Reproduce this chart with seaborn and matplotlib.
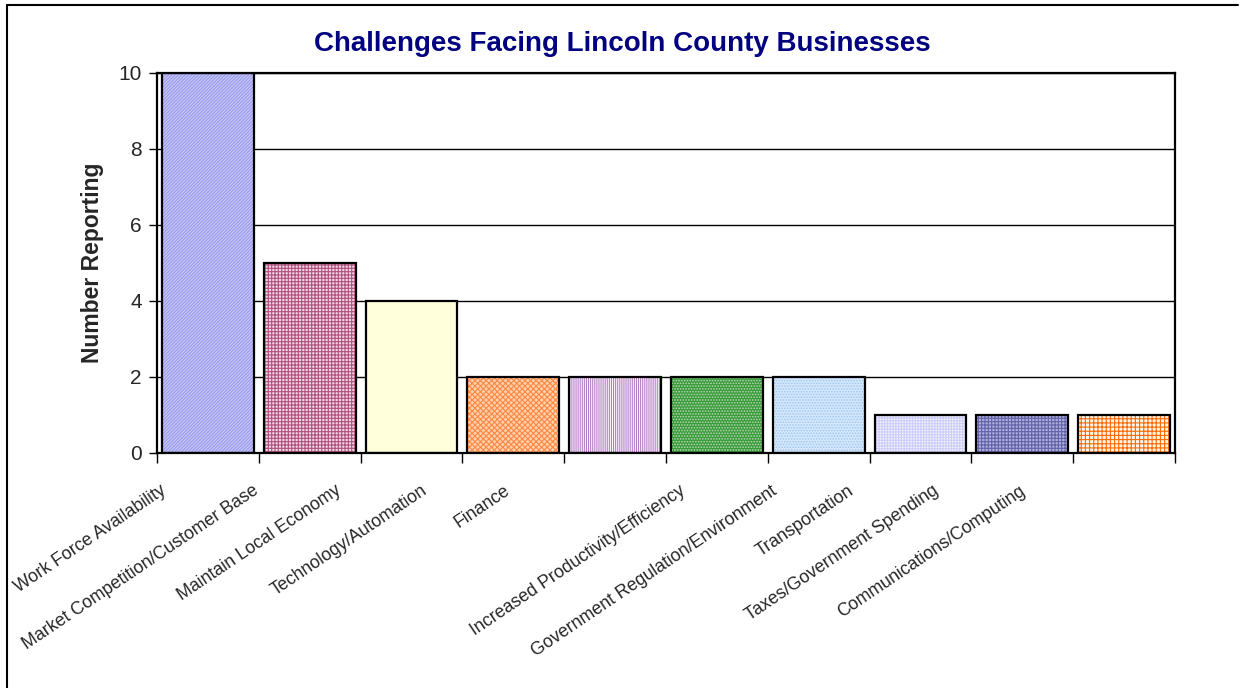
import matplotlib
matplotlib.use("Agg")
import matplotlib.pyplot as plt
import matplotlib.transforms as mtransforms
from matplotlib.patches import Rectangle
from matplotlib.lines import Line2D
import seaborn as sns
import pandas as pd

# ------------------------
# Data
# ------------------------
challenges = [
    "Work Force Availability",
    "Market Competition/Customer Base",
    "Maintain Local Economy",
    "Technology/Automation",
    "Finance",
    "Increased Productivity/Efficiency",
    "Government Regulation/Environment",
    "Transportation",
    "Taxes/Government Spending",
    "Communications/Computing",
]
num_reporting = [10, 5, 4, 2, 2, 2, 2, 1, 1, 1]
y_ticks = [0, 2, 4, 6, 8, 10]

# ------------------------
# Styles (Excel-like pattern fills)
# ------------------------
face_colors = ["#c6c6f6", "#f0d6e2", "#ffffdc", "#ffd0ac", "#ffffff",
               "#3a9a3a", "#d6e8fb", "#f4f4ff", "#aeaedc", "#fff6ee"]
hatch_colors = ["#9a9aee", "#b0507e", "#ffffdc", "#ff8844", "#b57cc6",
                "#b8dcb8", "#9cc6f0", "#cdcdfb", "#6262a8", "#ff6a00"]
hatches = ["//////////", "+++++", "", "xxxxxx", "||||||||",
           "......", "......", "++++++", "+++++", "++++"]
# shift of each rotated label to the left (px), mimics the Excel layout
label_shift = [39, 48, 67, 83, 102, 28, 39, 64, 81, 96]

df = pd.DataFrame({"challenge": challenges, "count": num_reporting})

sns.set_theme(style="white")
plt.rcParams["font.family"] = ["Liberation Sans", "DejaVu Sans"]
plt.rcParams["hatch.linewidth"] = 0.8

fig = plt.figure(figsize=(12.46, 6.88), dpi=100)
ax = fig.add_axes([157 / 1246, 1 - 453 / 688, (1175 - 157) / 1246, (453 - 73) / 688])

sns.barplot(data=df, x="challenge", y="count", hue="challenge",
            palette=face_colors, legend=False, width=0.9, ax=ax,
            saturation=1)

for p, hc, h in zip(ax.patches, hatch_colors, hatches):
    p.set_hatch(h)
    p.set_edgecolor(hc)
    p.set_linewidth(0)
    ax.add_patch(Rectangle(p.get_xy(), p.get_width(), p.get_height(),
                           fill=False, edgecolor="black", linewidth=1.6, zorder=3))

ax.set_xlim(-0.5, len(challenges) - 0.5)
ax.set_ylim(0, 10)
ax.set_yticks(y_ticks)
ax.set_yticklabels([str(v) for v in y_ticks], fontsize=15)
ax.yaxis.grid(True, color="black", linewidth=1)
ax.set_axisbelow(True)
ax.tick_params(axis="y", direction="out", length=6, width=1, color="black",
               left=True, pad=5)

# category boundaries carry the ticks, labels sit on the centres
ax.set_xticks([i - 0.5 for i in range(len(challenges) + 1)])
ax.set_xticklabels([])
ax.set_xticks(range(len(challenges)), minor=True)
ax.set_xticklabels(challenges, minor=True, rotation=34, ha="right", va="top",
                   fontsize=12.8)
ax.tick_params(axis="x", which="major", direction="out", length=7, width=1,
               color="black", bottom=True)
ax.tick_params(axis="x", which="minor", length=0, pad=21)
for lab, dx in zip(ax.get_xticklabels(minor=True), label_shift):
    lab.set_transform(lab.get_transform() + mtransforms.Affine2D().translate(-dx, 0))

for s in ax.spines.values():
    s.set_color("black")
    s.set_linewidth(1.6)

ax.set_xlabel("")
ax.set_ylabel("Number Reporting", fontsize=16.5, fontweight="bold", labelpad=10)
fig.text(622 / 1246, 1 - 44 / 688, "Challenges Facing Lincoln County Businesses",
         ha="center", va="center", fontsize=20, fontweight="bold", color="#000080")

# chart-area border (only top and left visible in the crop)
fig.add_artist(Line2D([7 / 1246, 7 / 1246], [0, 1 - 5 / 688], transform=fig.transFigure,
                      color="black", linewidth=1.5))
fig.add_artist(Line2D([7 / 1246, 1238 / 1246], [1 - 5 / 688, 1 - 5 / 688],
                      transform=fig.transFigure, color="black", linewidth=1.5))

fig.savefig("out.png", dpi=100, facecolor="white")
